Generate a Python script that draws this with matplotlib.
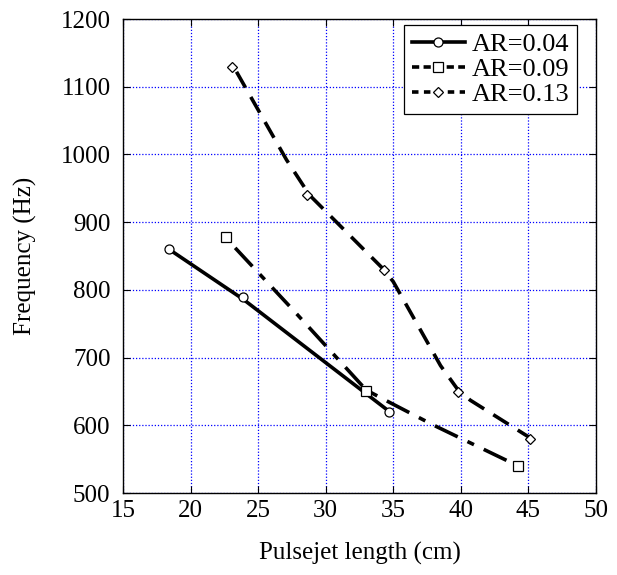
import matplotlib
matplotlib.use("Agg")
import matplotlib.pyplot as plt
from matplotlib.lines import Line2D

plt.rcParams["font.family"] = ["Liberation Serif", "DejaVu Serif"]

# ---- measured points (markers) ----
x_04 = [18.4, 23.9, 34.7]
y_04 = [860, 789, 620]
x_09 = [22.6, 33.0, 44.2]
y_09 = [878, 650, 540]
x_13 = [23.1, 28.6, 34.3, 39.8, 45.1]
y_13 = [1129, 940, 829, 649, 580]

# ---- curves (lines) ----
cx_04 = [18.4, 23.9, 34.6]
cy_04 = [860, 786, 622]
cx_09 = [23.3, 27.6, 33.0, 34.9, 38.0, 43.4]
cy_09 = [862, 770, 652, 632, 600, 548]
cx_13 = [23.4, 27.1, 28.8, 34.3, 35.0, 38.5, 39.8, 40.7, 45.0]
cy_13 = [1122, 992, 940, 830, 812, 688, 652, 637, 583]

labels = ["AR=0.04", "AR=0.09", "AR=0.13"]
xticks = [15, 20, 25, 30, 35, 40, 45, 50]
yticks = [500, 600, 700, 800, 900, 1000, 1100, 1200]

fig = plt.figure(figsize=(6.17, 5.75), dpi=100)
ax = fig.add_axes([123 / 617, 1 - 493 / 575, (596 - 123) / 617, (493 - 19) / 575])

lw = 2.6
dash_09 = (0, (7, 3, 2, 3))
dash_13 = (0, (5, 3))

ax.plot(cx_04, cy_04, color="black", lw=lw, ls="-")
ax.plot(cx_09, cy_09, color="black", lw=lw, ls=dash_09)
ax.plot(cx_13, cy_13, color="black", lw=lw, ls=dash_13)

ax.plot(x_04, y_04, ls="none", marker="o", ms=6.5, mfc="white", mec="black", mew=0.9)
ax.plot(x_09, y_09, ls="none", marker="s", ms=7.5, mfc="white", mec="black", mew=0.9)
ax.plot(x_13, y_13, ls="none", marker="D", ms=5.5, mfc="white", mec="black", mew=0.9)

ax.set_xlim(15, 50)
ax.set_ylim(500, 1200)
ax.set_xticks(xticks)
ax.set_yticks(yticks)
ax.grid(True, color="blue", ls=(0, (1, 1.5)), lw=0.9)
ax.tick_params(direction="in", top=True, right=True, length=5, labelsize=18)
ax.tick_params(axis="y", pad=9)
ax.tick_params(axis="x", pad=5)
for s in ax.spines.values():
    s.set_linewidth(1.0)

ax.set_xlabel("Pulsejet length (cm)", fontsize=18)
ax.set_ylabel("Frequency (Hz)", fontsize=18)
ax.xaxis.set_label_coords(0.5, -(553 - 493) / 474, transform=ax.transAxes)
ax.yaxis.set_label_coords(-(123 - 25) / 473, 0.5, transform=ax.transAxes)
ax.xaxis.label.set_va("center")
ax.yaxis.label.set_va("center")

handles = [
    Line2D([], [], color="black", lw=lw, ls="-", marker="o", ms=6.5, mfc="white", mec="black", mew=0.9),
    Line2D([], [], color="black", lw=lw, ls=(0, (2, 1.2, 2, 1.2)), marker="s", ms=7.5, mfc="white", mec="black", mew=0.9),
    Line2D([], [], color="black", lw=lw, ls=(0, (1.8, 1.5)), marker="D", ms=5.5, mfc="white", mec="black", mew=0.9),
]
leg = ax.legend(handles, labels, loc="upper right", fontsize=19, numpoints=1,
                handlelength=2.0, handletextpad=0.25, borderpad=0.3, labelspacing=0.05,
                frameon=True, fancybox=False, framealpha=1, edgecolor="black",
                bbox_to_anchor=(577 / 617, 1 - 25 / 575), bbox_transform=fig.transFigure,
                borderaxespad=0)
leg.get_frame().set_linewidth(0.9)

fig.savefig("out.png", dpi=100)
